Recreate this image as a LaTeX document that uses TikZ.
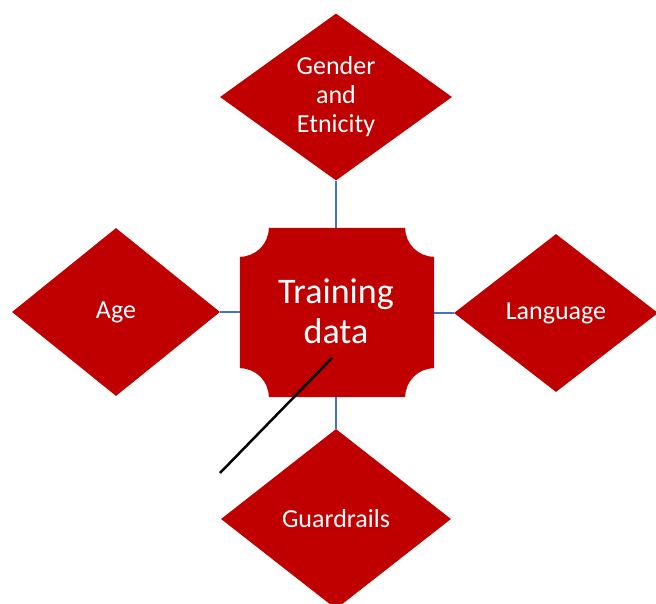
\documentclass[tikz,border=0pt]{standalone}
\usepackage{fontspec}
\setmainfont{Carlito}
\usetikzlibrary{shapes.geometric}
\definecolor{boxred}{HTML}{C00000}
\definecolor{linkblue}{HTML}{4472C4}
\tikzset{
  facet/.style={diamond, fill=boxred, inner sep=0pt, text=white, align=center,
    font=\fontsize{26}{29}\selectfont},
  link/.style={draw=linkblue, line width=2.5pt},
}
\begin{document}
\begin{tikzpicture}[x=1pt,y=-1pt]
\useasboundingbox (0,0) rectangle (656,604);
% center node (frame for anchors)
\node[minimum width=194pt, minimum height=169pt, inner sep=0pt] (c) at (337,312.5) {};
% facets
\node[facet, minimum width=232pt, minimum height=167pt] (gen) at (336,97) {Gender\\and\\Etnicity};
\node[facet, minimum width=208pt, minimum height=168pt] (age) at (116,312) {Age};
\node[facet, minimum width=204pt, minimum height=158pt] (lang) at (556,313) {Language};
\node[facet, minimum width=230pt, minimum height=180pt] (guard) at (336,519) {Guardrails};
% connectors
\draw[link] (gen.south) -- (gen.south |- c.north);
\draw[link] (age.east) -- (c.west |- age.east);
\draw[link] (lang.west) -- (c.east |- lang.west);
\draw[link] (guard.north) -- (guard.north |- c.south);
% center shape with concave corners
\fill[boxred] ([xshift=29pt]c.north west) -- ([xshift=-29pt]c.north east) arc(180:270:29pt)
  -- ([yshift=29pt]c.south east) arc(90:180:29pt)
  -- ([xshift=29pt]c.south west) arc(0:90:29pt)
  -- ([yshift=-29pt]c.north west) arc(270:360:29pt) -- cycle;
\node[text=white, align=center, font=\fontsize{36}{40}\selectfont] (ct) at (336,311) {Training\\data};
% free black line
\coordinate (ls) at (332,358);
\coordinate (le) at (220,473);
\draw[black, line width=2.5pt] (ls) -- (le);
\end{tikzpicture}
\end{document}
